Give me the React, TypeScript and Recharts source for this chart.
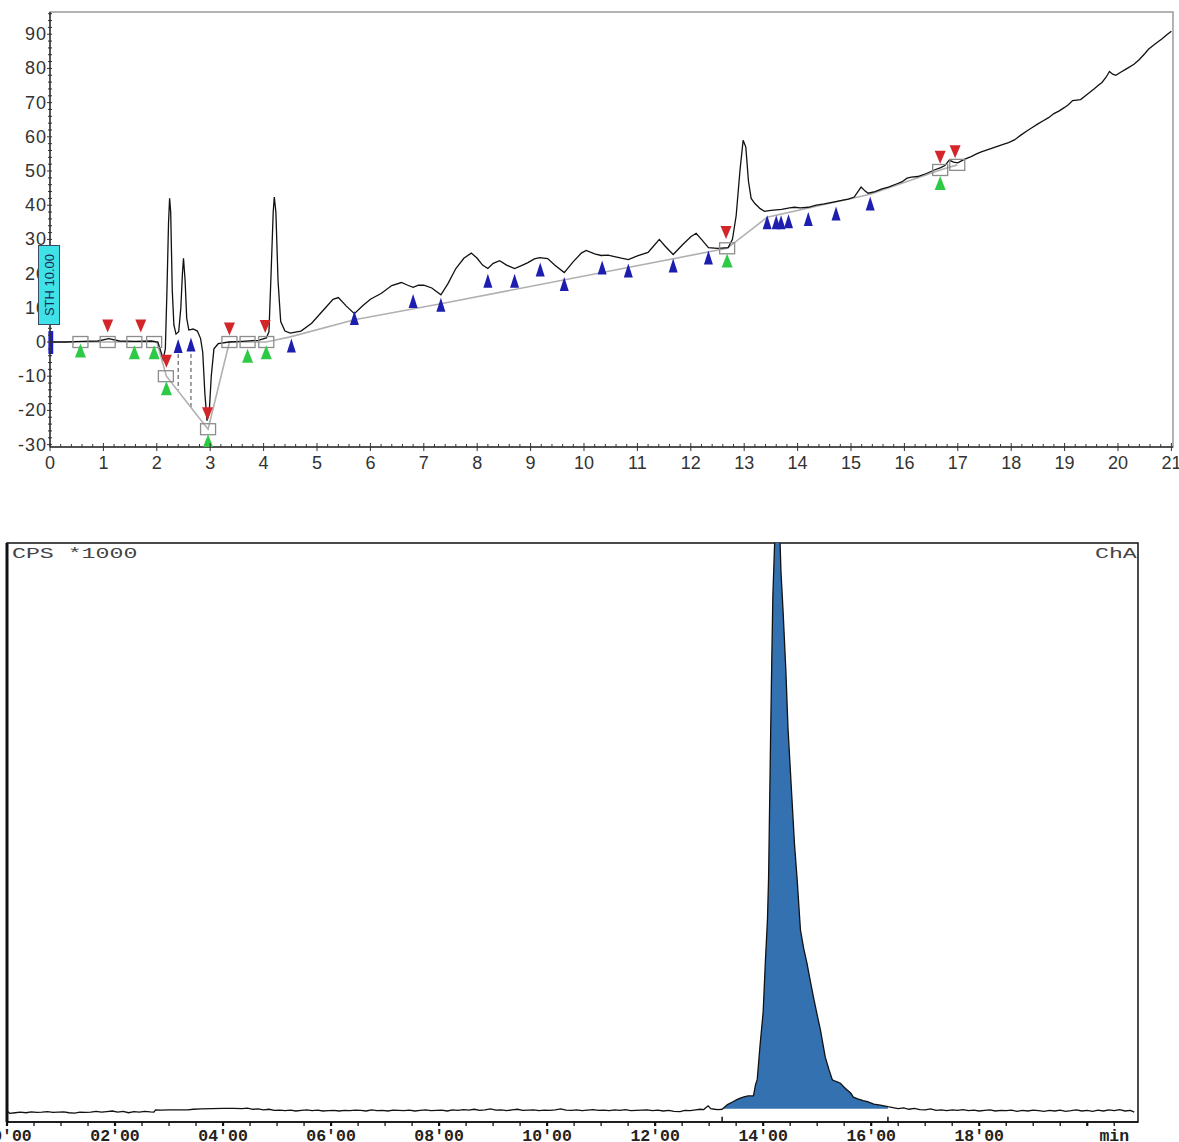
import React from 'react';
import {
  ComposedChart,
  Line,
  Area,
  Scatter,
  XAxis,
  YAxis,
  ReferenceArea,
  ReferenceLine,
} from 'recharts';

// ---- top chromatogram (time in min, signal) ----
const topTrace: [number, number][] = [
  [0, 0], [0.3, 0], [0.6, 0.2], [0.9, 0.3], [1.1, 1.0], [1.3, 0.3], [1.6, 0.2], [1.9, 0.3],
  [2.02, 0], [2.08, -3], [2.12, -5], [2.16, -2], [2.19, 15], [2.22, 35], [2.24, 42], [2.26, 38],
  [2.29, 15], [2.32, 5], [2.36, 2.3], [2.41, 3], [2.45, 10], [2.48, 20], [2.5, 24.5], [2.53, 18],
  [2.56, 7], [2.6, 3.5], [2.68, 3.8], [2.76, 3.2], [2.82, 1], [2.86, -3], [2.9, -15], [2.94, -23],
  [2.98, -21], [3.02, -10], [3.07, -2], [3.15, -0.5], [3.35, 0], [3.6, 0.2], [3.9, 0.5], [4.05, 1.2],
  [4.1, 3], [4.14, 20], [4.18, 38], [4.2, 42.4], [4.23, 38], [4.27, 18], [4.32, 6], [4.4, 3.2],
  [4.5, 2.6], [4.7, 3.2], [4.9, 5.5], [5.1, 9], [5.3, 12.5], [5.4, 13], [5.55, 10.5], [5.7, 8.3],
  [5.85, 10.5], [6.0, 12.5], [6.2, 14.2], [6.4, 16.5], [6.58, 17.4], [6.7, 16.6], [6.8, 16],
  [6.9, 16.6], [7.0, 16.6], [7.15, 15.8], [7.32, 13.8], [7.45, 17], [7.6, 21.5], [7.75, 24.5],
  [7.89, 26], [8.0, 24.5], [8.1, 22.5], [8.2, 21.5], [8.3, 23], [8.42, 23.8], [8.55, 22.5],
  [8.7, 21.5], [8.85, 22.5], [8.95, 23.2], [9.07, 24.3], [9.17, 24.7], [9.32, 24.4], [9.45, 22.5],
  [9.63, 20.3], [9.8, 23.5], [9.95, 26], [10.04, 26.8], [10.2, 25.8], [10.32, 25.3], [10.45, 25.4],
  [10.57, 25], [10.7, 24.5], [10.83, 24.1], [11.0, 25.2], [11.2, 26.2], [11.3, 28], [11.41, 30],
  [11.52, 28], [11.67, 25.6], [11.85, 28.5], [12.0, 30.8], [12.1, 31.8], [12.2, 30], [12.33, 27.6],
  [12.5, 27.4], [12.7, 27.6], [12.78, 30], [12.85, 37], [12.92, 50], [12.98, 59], [13.03, 57],
  [13.08, 47], [13.13, 42], [13.2, 40.5], [13.3, 39], [13.38, 38.2], [13.5, 38.5], [13.7, 38.8],
  [13.85, 39.2], [13.94, 39.4], [14.05, 39.2], [14.2, 39.4], [14.35, 40], [14.5, 40.4], [14.69, 41],
  [14.85, 41.5], [14.95, 41.8], [15.06, 42.4], [15.13, 44], [15.19, 45.3], [15.26, 44.2],
  [15.32, 43.5], [15.45, 44], [15.58, 44.8], [15.7, 45.3], [15.85, 46.2], [15.95, 46.8],
  [16.05, 47.9], [16.13, 48.2], [16.25, 48.4], [16.4, 49.2], [16.56, 50.3], [16.68, 51],
  [16.76, 51.6], [16.84, 53.2], [16.92, 52.6], [17.0, 52.4], [17.12, 53.4], [17.25, 54.2],
  [17.35, 55], [17.44, 55.6], [17.55, 56.2], [17.7, 57], [17.85, 57.8], [17.95, 58.3], [18.06, 59.1],
  [18.18, 60.5], [18.3, 61.8], [18.38, 62.6], [18.5, 63.8], [18.6, 64.7], [18.7, 65.6], [18.8, 66.8],
  [18.9, 67.6], [19.0, 68.6], [19.07, 69.4], [19.15, 70.6], [19.3, 70.9], [19.42, 72.4], [19.55, 74],
  [19.65, 75.3], [19.7, 75.9], [19.78, 77.5], [19.84, 79.1], [19.9, 78.3], [19.96, 78], [20.05, 78.9],
  [20.15, 79.8], [20.3, 81.2], [20.4, 82.6], [20.5, 84.3], [20.57, 85.6], [20.7, 87.2], [20.82, 88.6],
  [20.92, 89.9], [21.0, 90.9],
];

// integration baseline (grey)
const baseline: [number, number][] = [
  [0, 0], [2.0, 0], [2.18, -10], [2.96, -25.5], [3.36, 0], [4.05, 0], [4.5, 1.5], [5.7, 6.5],
  [7.32, 11.2], [12.68, 27.4], [13.43, 36.5], [15.36, 43.2], [16.67, 50.3], [16.99, 51.8],
];

const blueMarks: [number, number][] = [
  [2.4, -1.2], [2.64, -0.7], [4.52, -1], [5.7, 7], [6.8, 12], [7.32, 10.9], [8.2, 17.9], [8.7, 17.9],
  [9.18, 21.2], [9.63, 17], [10.34, 21.8], [10.83, 20.9], [11.67, 22.4], [12.33, 24.7], [13.43, 35],
  [13.6, 35], [13.69, 35], [13.83, 35.3], [14.2, 36], [14.72, 37.6], [15.36, 40.5],
];
const redMarks: [number, number][] = [
  [1.08, 4.7], [1.7, 4.7], [2.18, -5.6], [2.95, -21], [3.36, 3.8], [4.03, 4.5], [12.66, 32],
  [16.67, 54], [16.95, 55.6],
];
const greenMarks: [number, number][] = [
  [0.57, -2.5], [1.58, -3], [1.95, -3], [2.18, -13.5], [2.96, -29], [3.7, -4], [4.05, -3],
  [12.68, 23.8], [16.67, 46.5],
];
const boxMarks: [number, number][] = [
  [0.57, 0], [1.08, 0], [1.58, 0], [1.95, 0], [2.17, -10], [2.96, -25.5], [3.36, 0], [3.7, 0],
  [4.05, 0], [12.68, 27.4], [16.67, 50.3], [16.99, 51.8],
];
// dashed drop lines: x, top, bottom
const dropLines: [number, number, number][] = [
  [2.4, -3.5, -14],
  [2.64, -3.5, -19],
];
const startMark = { x1: -0.03, x2: 0.06, y1: -3.5, y2: 3.2 };

const topXLabels = [0, 1, 2, 3, 4, 5, 6, 7, 8, 9, 10, 11, 12, 13, 14, 15, 16, 17, 18, 19, 20, 21];
const topYLabels = [-30, -20, -10, 0, 10, 20, 30, 40, 50, 60, 70, 80, 90];
const TOP_X_DOMAIN: [number, number] = [0, 21.03];
const TOP_Y_DOMAIN: [number, number] = [-30.7, 96.5];

// ---- bottom chromatogram (min, CPS*1000) ----
const bottomTrace: [number, number][] = [
  [0, 1.9], [0.05, 1.5], [0.15, 1.6], [0.25, 1.7], [0.35, 1.6], [0.45, 1.75], [0.55, 1.65], [0.65, 1.7],
  [0.75, 1.8], [0.85, 1.65], [0.95, 1.7], [1.05, 1.75], [1.15, 1.6], [1.25, 1.55], [1.35, 1.7],
  [1.45, 1.65], [1.55, 1.7], [1.65, 1.85], [1.75, 1.7], [1.85, 1.8], [1.95, 1.9], [2.05, 1.7],
  [2.15, 1.85], [2.25, 1.6], [2.35, 1.8], [2.45, 1.7], [2.55, 1.85], [2.65, 1.75], [2.72, 1.7],
  [2.75, 2.1], [2.85, 2.05], [3.0, 2.1], [3.2, 2.1], [3.35, 2.1], [3.45, 2.2], [3.6, 2.25], [3.8, 2.3],
  [4.0, 2.35], [4.2, 2.35], [4.35, 2.3], [4.45, 2.4], [4.55, 2.2], [4.65, 2.25], [4.75, 2.1],
  [4.85, 2.2], [4.95, 2.0], [5.05, 2.05], [5.15, 1.95], [5.25, 2.05], [5.35, 1.9], [5.45, 2.0],
  [5.55, 2.1], [5.65, 1.95], [5.75, 2.05], [5.85, 1.9], [5.95, 1.95], [6.05, 2.0], [6.15, 1.9],
  [6.25, 2.0], [6.35, 1.95], [6.45, 2.05], [6.55, 2.0], [6.65, 1.9], [6.75, 2.1], [6.85, 1.95],
  [6.95, 2.0], [7.05, 1.9], [7.15, 2.05], [7.25, 2.0], [7.35, 1.95], [7.45, 2.05], [7.55, 1.9],
  [7.65, 2.0], [7.75, 2.1], [7.85, 1.95], [7.95, 2.0], [8.05, 2.05], [8.15, 1.9], [8.25, 2.1],
  [8.35, 2.0], [8.45, 2.15], [8.55, 2.05], [8.65, 2.2], [8.75, 2.0], [8.85, 2.1], [8.95, 2.25],
  [9.05, 2.05], [9.15, 2.1], [9.25, 1.95], [9.35, 2.1], [9.45, 2.2], [9.55, 2.0], [9.65, 2.05],
  [9.75, 2.1], [9.85, 1.95], [9.95, 2.05], [10.05, 2.0], [10.15, 2.1], [10.25, 2.25], [10.35, 2.05],
  [10.45, 2.0], [10.55, 2.1], [10.65, 1.95], [10.75, 2.05], [10.85, 2.15], [10.95, 2.0], [11.05, 2.05],
  [11.15, 1.95], [11.25, 2.1], [11.35, 2.0], [11.45, 2.15], [11.55, 1.95], [11.65, 2.0], [11.75, 2.05],
  [11.85, 2.1], [11.95, 1.95], [12.05, 2.05], [12.15, 1.9], [12.25, 2.0], [12.35, 1.85], [12.46, 1.8],
  [12.55, 2.0], [12.65, 1.95], [12.75, 2.1], [12.83, 2.2], [12.9, 2.15], [12.98, 2.8], [13.03, 2.3],
  [13.1, 2.2], [13.17, 2.15], [13.24, 2.2], [13.34, 3.0], [13.44, 3.5], [13.54, 4.0], [13.63, 4.3],
  [13.72, 4.5], [13.82, 4.5], [13.86, 6.5], [13.89, 7.3], [13.94, 13], [14.0, 19], [14.04, 27.5],
  [14.08, 35], [14.1, 42], [14.12, 55], [14.14, 68], [14.16, 80], [14.18, 91], [14.22, 102],
  [14.26, 110], [14.3, 104], [14.33, 95], [14.37, 88], [14.42, 78], [14.46, 68], [14.52, 58],
  [14.58, 48], [14.63, 41.8], [14.69, 33.2], [14.75, 30], [14.81, 27.5], [14.87, 24.5], [14.93, 21.6],
  [15.0, 18.5], [15.06, 15.9], [15.15, 11.2], [15.22, 9.0], [15.28, 7.3], [15.35, 7.0], [15.43, 6.7],
  [15.5, 6.0], [15.56, 5.5], [15.62, 5.0], [15.67, 4.3], [15.75, 4.0], [15.85, 3.7], [15.93, 3.5],
  [16.05, 3.1], [16.17, 2.9], [16.26, 2.75], [16.31, 2.65], [16.4, 2.5], [16.5, 2.3], [16.6, 2.45],
  [16.7, 2.2], [16.8, 2.35], [16.9, 2.15], [17.0, 2.1], [17.1, 2.25], [17.2, 2.0], [17.3, 2.1],
  [17.4, 1.95], [17.5, 2.1], [17.6, 2.0], [17.7, 2.15], [17.8, 1.95], [17.9, 2.05], [18.0, 1.9],
  [18.1, 2.0], [18.2, 2.1], [18.3, 1.9], [18.4, 2.0], [18.5, 1.95], [18.6, 2.05], [18.7, 1.85],
  [18.8, 2.0], [18.9, 1.9], [19.0, 2.05], [19.1, 1.95], [19.2, 1.85], [19.3, 2.0], [19.4, 1.9],
  [19.5, 2.05], [19.6, 1.85], [19.7, 1.95], [19.8, 2.1], [19.9, 1.9], [20.0, 2.0], [20.1, 1.85],
  [20.2, 2.05], [20.3, 1.9], [20.4, 2.1], [20.5, 1.95], [20.6, 2.15], [20.7, 1.9], [20.8, 2.0],
  [20.87, 1.7],
];
const peakWindow: [number, number] = [13.24, 16.31];
const peakBase = 2.3;
const bottomLabels: [number, string][] = [
  [0, "00'00"], [2, "02'00"], [4, "04'00"], [6, "06'00"], [8, "08'00"], [10, "10'00"],
  [12, "12'00"], [14, "14'00"], [16, "16'00"], [18, "18'00"], [20.5, 'min'],
];
const BOTTOM_X_DOMAIN: [number, number] = [0, 20.94];
const BOTTOM_Y_DOMAIN: [number, number] = [0, 100];

const toXY = (arr: [number, number][]) => arr.map(([x, y]) => ({ x, y }));

const topMinorX = Array.from({ length: 106 }, (_, i) => Math.round(i * 2) / 10);
const topMinorY = Array.from({ length: 64 }, (_, i) => -30 + i * 2);
const bottomTicks = Array.from({ length: 42 }, (_, i) => i * 0.5);

const sans = '"Liberation Sans", Arial, sans-serif';
const mono = '"Liberation Mono", "Courier New", monospace';

const isInt = (v: number) => Math.abs(v - Math.round(v)) < 1e-6;

function TopXTick(props: any) {
  const { x, y, payload } = props;
  const v = payload.value as number;
  const major = topXLabels.some((l) => Math.abs(l - v) < 1e-6);
  return (
    <g>
      <line x1={x} x2={x} y1={major ? y - 4 : y - 3} y2={major ? y + 4 : y} stroke="#333" strokeWidth={1} />
      {major && (
        <text x={x} y={y + 22} textAnchor="middle" fontSize={18} fontFamily={sans} fill="#333">
          {v}
        </text>
      )}
    </g>
  );
}

function TopYTick(props: any) {
  const { x, y, payload } = props;
  const v = payload.value as number;
  const major = topYLabels.includes(v);
  return (
    <g>
      <line x1={major ? x - 3 : x - 2} x2={x + 2} y1={y} y2={y} stroke="#333" strokeWidth={1} />
      {major && (
        <text x={x - 3} y={y + 6} textAnchor="end" fontSize={18} fontFamily={sans} fill="#333" letterSpacing={1}>
          {v}
        </text>
      )}
    </g>
  );
}

function BottomXTick(props: any) {
  const { x, y, payload } = props;
  const v = payload.value as number;
  const lab = bottomLabels.find(([t]) => Math.abs(t - v) < 1e-6);
  const even = isInt(v) && Math.round(v) % 2 === 0;
  return (
    <g>
      <line x1={x} x2={x} y1={y} y2={y + 4} stroke="#111" strokeWidth={even ? 2.2 : 1.3} />
      {lab && (
        <text x={x} y={y + 18.5} textAnchor="middle" fontSize={16.5} fontWeight="bold" fontFamily={mono} fill="#222">
          {lab[1]}
        </text>
      )}
    </g>
  );
}

const tri = (color: string, w: number, h: number, down = false) => (props: any) => {
  const { cx, cy } = props;
  const pts = down
    ? `${cx - w / 2},${cy - h / 2} ${cx + w / 2},${cy - h / 2} ${cx},${cy + h / 2}`
    : `${cx},${cy - h / 2} ${cx - w / 2},${cy + h / 2} ${cx + w / 2},${cy + h / 2}`;
  return <polygon points={pts} fill={color} />;
};

const boxShape = (props: any) => {
  const { cx, cy } = props;
  return <rect x={cx - 7.5} y={cy - 5.5} width={15} height={11} fill="none" stroke="#8c8c8c" strokeWidth={1.3} />;
};

function TopChart() {
  return (
    <ComposedChart width={1179} height={480} margin={{ top: 12, right: 6, bottom: 3, left: 0 }}>
      <XAxis
        type="number"
        dataKey="x"
        domain={TOP_X_DOMAIN}
        allowDataOverflow
        ticks={topMinorX}
        interval={0}
        tick={(p: any) => <TopXTick {...p} />}
        tickLine={false}
        tickSize={0}
        tickMargin={0}
        height={30}
        axisLine={{ stroke: '#333', strokeWidth: 1.5 }}
      />
      <YAxis
        type="number"
        dataKey="y"
        domain={TOP_Y_DOMAIN}
        allowDataOverflow
        ticks={topMinorY}
        interval={0}
        tick={(p: any) => <TopYTick {...p} />}
        tickLine={false}
        tickSize={0}
        tickMargin={0}
        width={50}
        axisLine={{ stroke: '#333', strokeWidth: 1.5 }}
      />
      <ReferenceArea
        x1={TOP_X_DOMAIN[0]}
        x2={TOP_X_DOMAIN[1]}
        y1={TOP_Y_DOMAIN[0]}
        y2={TOP_Y_DOMAIN[1]}
        fill="none"
        stroke="#9a9a9a"
        strokeWidth={1.5}
      />
      {dropLines.map(([x, a, b], i) => (
        <ReferenceLine
          key={i}
          segment={[{ x, y: a }, { x, y: b }]}
          stroke="#444"
          strokeDasharray="4 3"
          strokeWidth={1}
        />
      ))}
      <Line
        data={toXY(baseline)}
        dataKey="y"
        type="linear"
        stroke="#b0b0b0"
        strokeWidth={1.6}
        dot={false}
        isAnimationActive={false}
      />
      <Line
        data={toXY(topTrace)}
        dataKey="y"
        type="linear"
        stroke="#111"
        strokeWidth={1.3}
        dot={false}
        isAnimationActive={false}
      />
      <Scatter data={toXY(boxMarks)} dataKey="y" shape={boxShape} isAnimationActive={false} />
      <Scatter data={toXY(greenMarks)} dataKey="y" shape={tri('#2fca45', 11, 14)} isAnimationActive={false} />
      <Scatter data={toXY(redMarks)} dataKey="y" shape={tri('#d3262b', 11, 13, true)} isAnimationActive={false} />
      <Scatter data={toXY(blueMarks)} dataKey="y" shape={tri('#1d1db0', 9, 14)} isAnimationActive={false} />
      <ReferenceArea
        x1={startMark.x1}
        x2={startMark.x2}
        y1={startMark.y1}
        y2={startMark.y2}
        fill="#1717d4"
        fillOpacity={1}
        stroke="none"
        ifOverflow="visible"
      />
    </ComposedChart>
  );
}

function BottomChart() {
  const pts = bottomTrace.map(([t, v]) => ({ t, v }));
  const fillPts = pts.filter((p) => p.t >= peakWindow[0] && p.t <= peakWindow[1]);
  return (
    <ComposedChart width={1179} height={612} margin={{ top: 13, right: 41, bottom: 0, left: 7 }}>
      <XAxis
        type="number"
        dataKey="t"
        domain={BOTTOM_X_DOMAIN}
        allowDataOverflow
        ticks={bottomTicks}
        interval={0}
        tick={(p: any) => <BottomXTick {...p} />}
        tickLine={false}
        tickSize={0}
        tickMargin={0}
        height={20}
        axisLine={{ stroke: '#111', strokeWidth: 1.5 }}
      />
      <YAxis type="number" domain={BOTTOM_Y_DOMAIN} allowDataOverflow hide />
      <ReferenceArea
        x1={BOTTOM_X_DOMAIN[0]}
        x2={BOTTOM_X_DOMAIN[1]}
        y1={BOTTOM_Y_DOMAIN[0]}
        y2={BOTTOM_Y_DOMAIN[1]}
        fill="none"
        stroke="#111"
        strokeWidth={1.5}
      />
      <ReferenceLine x={0} stroke="#111" strokeWidth={3} />
      <Area
        data={fillPts}
        dataKey="v"
        type="linear"
        baseValue={peakBase}
        fill="#3471b1"
        fillOpacity={1}
        stroke="none"
        isAnimationActive={false}
      />
      <Line
        data={pts}
        dataKey="v"
        type="linear"
        stroke="#111"
        strokeWidth={1.3}
        dot={false}
        isAnimationActive={false}
      />
      {peakWindow.map((t) => (
        <ReferenceLine
          key={t}
          segment={[{ x: t, y: 0 }, { x: t, y: 0.9 }]}
          stroke="#111"
          strokeWidth={1.5}
        />
      ))}
    </ComposedChart>
  );
}

const stretchedLabel: React.CSSProperties = {
  position: 'absolute',
  top: 547,
  fontSize: 14.5,
  lineHeight: 1,
  fontFamily: mono,
  color: '#444',
  whiteSpace: 'pre',
  transform: 'scaleX(1.6)',
  transformOrigin: 'left top',
};

export default function App() {
  return (
    <div
      style={{
        position: 'absolute',
        left: 0,
        top: 0,
        width: 1179,
        height: 1142,
        background: '#fff',
        overflow: 'hidden',
      }}
    >
      <div style={{ position: 'absolute', left: 0, top: 0 }}>
        <TopChart />
      </div>
      <div
        style={{
          position: 'absolute',
          left: 38,
          top: 245,
          width: 22,
          height: 80,
          background: '#3fe2e6',
          border: '1px solid #3a4a66',
          boxSizing: 'border-box',
        }}
      >
        <span
          style={{
            position: 'absolute',
            left: '50%',
            top: '50%',
            transform: 'translate(-50%, -50%) rotate(-90deg)',
            whiteSpace: 'nowrap',
            fontSize: 13,
            fontFamily: sans,
            color: '#1b2b55',
          }}
        >
          STH 10.00
        </span>
      </div>
      <div style={{ position: 'absolute', left: 0, top: 530 }}>
        <BottomChart />
      </div>
      <div style={{ ...stretchedLabel, left: 12 }}>CPS *1000</div>
      <div style={{ ...stretchedLabel, left: 1095 }}>ChA</div>
    </div>
  );
}
